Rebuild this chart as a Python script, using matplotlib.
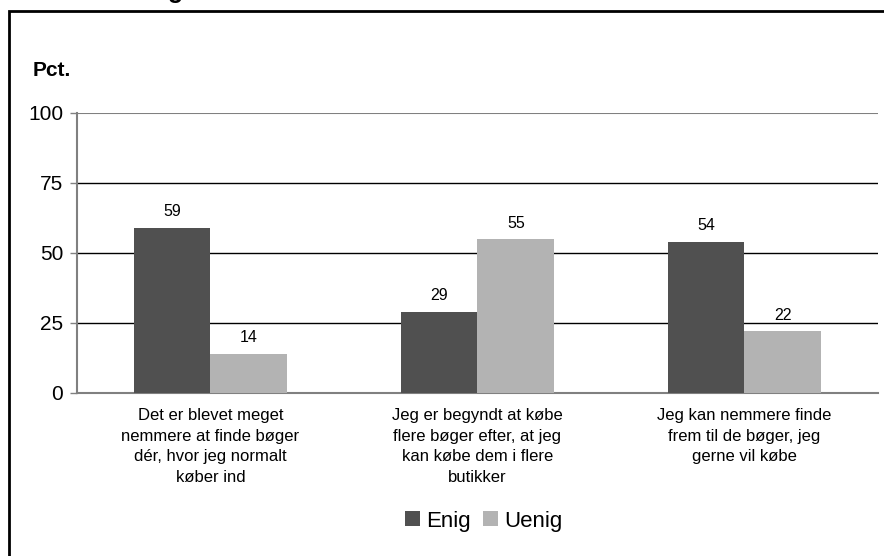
import numpy as np
import matplotlib.pyplot as plt
from matplotlib.patches import Rectangle

plt.rcParams['font.family'] = ['Liberation Sans', 'DejaVu Sans']

categories = ['Det er blevet meget\nnemmere at finde bøger\ndér, hvor jeg normalt\nkøber ind',
              'Jeg er begyndt at købe\nflere bøger efter, at jeg\nkan købe dem i flere\nbutikker',
              'Jeg kan nemmere finde\nfrem til de bøger, jeg\ngerne vil købe']
enig = [59, 29, 54]
uenig = [14, 55, 22]
yticks = [0, 25, 50, 75, 100]

dark = '#505050'
light = '#b3b3b3'
axis_grey = '#808080'


def main():
    fig = plt.figure(figsize=(8.84, 5.56), dpi=100)
    ax = fig.add_axes([0.0871, 0.2932, 0.9061, 0.5036])

    x = np.arange(len(categories))
    w = 0.288
    b1 = ax.bar(x - w / 2, enig, w, color=dark, label='Enig', zorder=3)
    b2 = ax.bar(x + w / 2, uenig, w, color=light, label='Uenig', zorder=3)
    for bars in (b1, b2):
        for r in bars:
            ax.annotate(f'{r.get_height():.0f}', (r.get_x() + r.get_width() / 2, r.get_height()),
                        xytext=(0, 6), textcoords='offset points', ha='center', va='bottom',
                        fontsize=11.5, color='black')

    ax.set_xlim(-0.5, 2.5)
    ax.set_ylim(0, 100)
    ax.set_yticks(yticks)
    ax.set_yticklabels([str(v) for v in yticks], fontsize=15)
    for v in yticks[1:-1]:
        ax.axhline(v, color='black', lw=1, zorder=1)
    ax.axhline(100, color=axis_grey, lw=1.5, zorder=1)
    ax.tick_params(axis='y', direction='out', length=5, width=1, color=axis_grey, pad=5)
    ax.set_xticks([])
    for s in ('top', 'right'):
        ax.spines[s].set_visible(False)
    for s in ('left', 'bottom'):
        ax.spines[s].set_color(axis_grey)
        ax.spines[s].set_linewidth(1.5)

    for i, lab in enumerate(categories):
        ax.text(i, -5.5, lab, ha='center', va='top', fontsize=12, linespacing=1.45)

    fig.text(33 / 884, 1 - 70 / 556, 'Pct.', fontsize=15, fontweight='bold', va='center')
    fig.text(183 / 884, 1 + 2 / 556, 'g', fontsize=18, fontweight='bold', ha='right', va='baseline')

    fig.legend(handles=[b1, b2], loc='center', bbox_to_anchor=(484 / 884, 1 - 521 / 556),
               ncol=2, frameon=False, fontsize=16, handlelength=0.68, handleheight=0.68,
               handletextpad=0.27, columnspacing=0.55, borderpad=0)

    fig.patches.append(Rectangle((9 / 884, -0.2), 1.2, 1.2 - 11 / 556, transform=fig.transFigure,
                                 fill=False, edgecolor='black', lw=2))

    fig.savefig('out.png', dpi=100)


if __name__ == "__main__":
    main()
